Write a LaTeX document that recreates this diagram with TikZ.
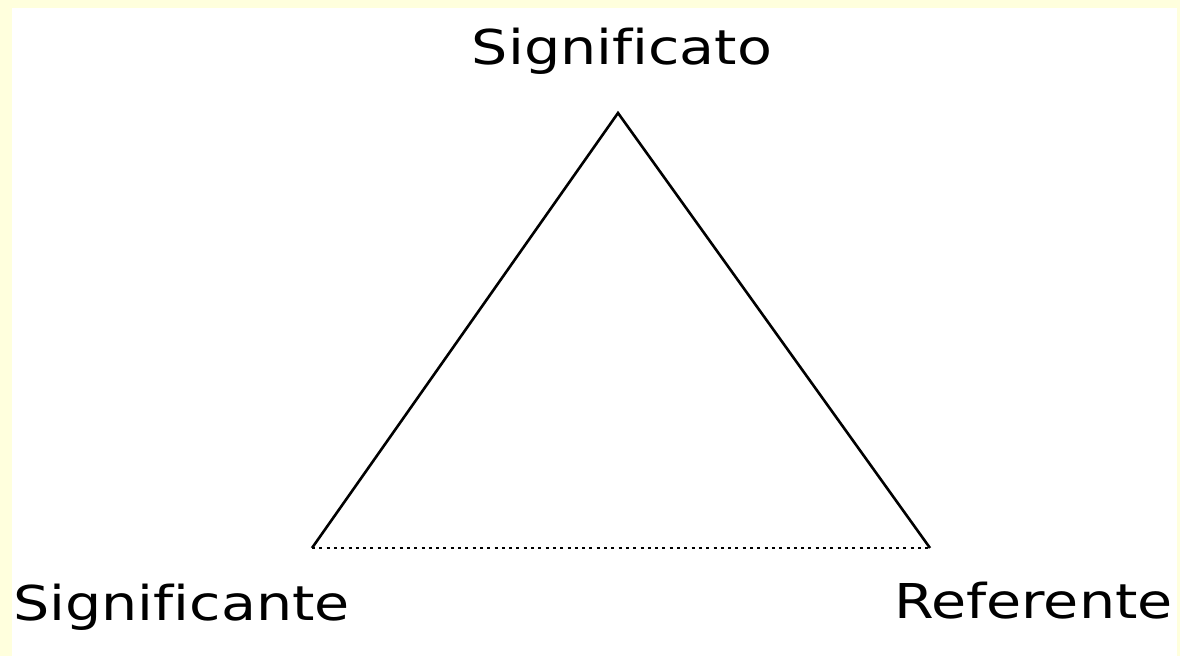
\documentclass[tikz,border=0pt]{standalone}
\usepackage{fontspec}
\setmainfont{DejaVu Sans}[Ligatures=NoCommon]
\definecolor{paleyellow}{HTML}{FFFFDD}
\begin{document}
\begin{tikzpicture}[x=1pt,y=1pt,every node/.style={inner sep=0pt}]
\tikzstyle{lbl}=[font=\fontsize{48}{58}\selectfont,xscale=1.19,transform shape]
\tikzstyle{side}=[draw,line width=2.6pt,line join=miter]
\tikzstyle{base}=[draw,line width=2.4pt,dash pattern=on 3pt off 4.3pt]
\path[fill=paleyellow](0,0) rectangle (1180,656);
\path[fill=white](12,0) rectangle (1177,648);

\coordinate (v0) at (618,543);
\coordinate (v1) at (312,108);
\coordinate (v2) at (930,108);

\node[lbl,anchor=base](n0) at (622,591){Significato};
\node[lbl,anchor=base west](n1) at (13,36){Significante};
\node[lbl,anchor=base east](n2) at (1173,38){Referente};

\path[side](v1)--(v0)--(v2);
\path[base](v1)--(v2);
\end{tikzpicture}
\end{document}
